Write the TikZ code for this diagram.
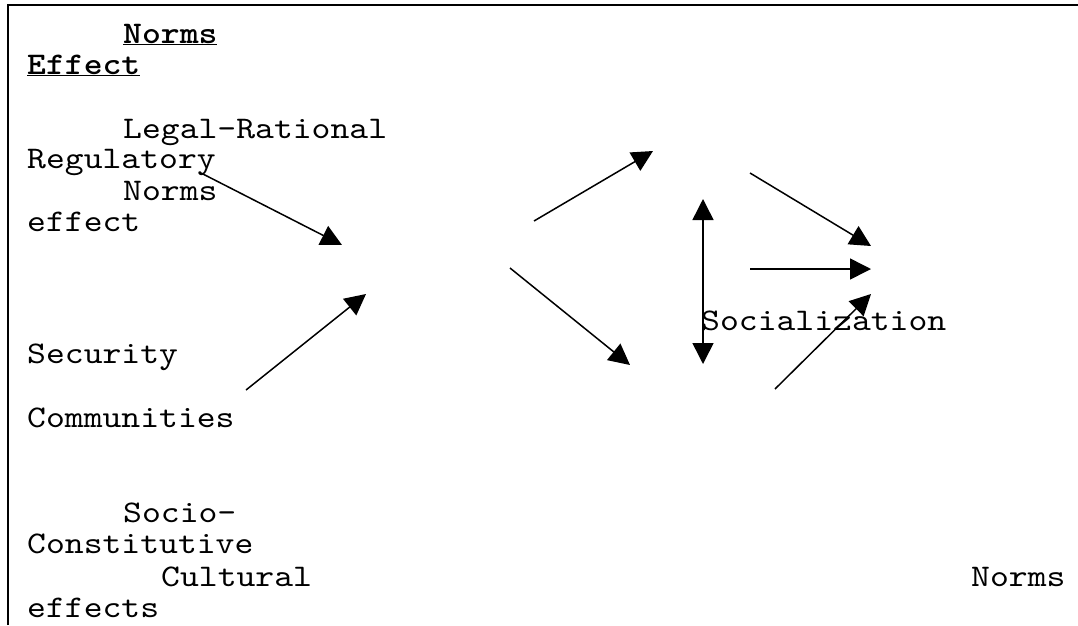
\documentclass[tikz,border=0pt]{standalone}
\usepackage{fontspec}
\newfontfamily\courierfont{lmmono10-regular.otf}[FakeStretch=1.14, BoldFont=lmmonolt10-bold.otf]
\usetikzlibrary{arrows.meta,positioning}

\begin{document}
\begin{tikzpicture}[
    x=1pt, y=-1pt,
    lbl/.style={font=\courierfont\fontsize{31.5}{32}\selectfont, anchor=base west, inner sep=0pt},
    arrow/.style={-{Triangle[length=21pt,width=21pt]}, line width=1.5pt},
    darrow/.style={{Triangle[length=21pt,width=21pt]}-{Triangle[length=21pt,width=21pt]}, line width=1.5pt}
]
\useasboundingbox (0,0) rectangle (1078,625);

%% ── Frame (top and left edges only) ──────────────────────────────
\draw[line width=2pt] (8,625) -- (8,5) -- (1078,5);

%% ── Text lines ───────────────────────────────────────────────────
\node[lbl] (title1) at (123,43)  {\underline{\textbf{Norms}}};
\node[lbl] (title2) at (27,74)   {\underline{\textbf{Effect}}};

\node[lbl] (legal)  at (123,138) {Legal-Rational};
\node[lbl] (regul)  at (27,168)  {Regulatory};
\node[lbl] (norms1) at (123,200) {Norms};
\node[lbl] (effect) at (27,231)  {effect};

\node[lbl] (secur)  at (27,363)  {Security};
\node[lbl] (commun) at (27,427)  {Communities};

\node[lbl] (social) at (701,330) {Socialization};

\node[lbl] (socio)  at (123,522) {Socio-};
\node[lbl] (constit) at (27,553) {Constitutive};
\node[lbl] (cultur) at (161,586) {Cultural};
\node[lbl] (norms2) at (971,586) {Norms};
\node[lbl] (effects) at (27,617) {effects};

%% ── Arrow end points ─────────────────────────────────────────────
\coordinate (regS) at (201,173);  \coordinate (regE) at (342,245);
\coordinate (secS) at (246,390);  \coordinate (secE) at (366,294);
\coordinate (upS)  at (534,221);  \coordinate (upE)  at (653,151);
\coordinate (dnS)  at (510,268);  \coordinate (dnE)  at (630,365);
\coordinate (vT)   at (703,199);  \coordinate (vB)   at (703,364);
\coordinate (r1S)  at (750,173);  \coordinate (r1E)  at (871,246);
\coordinate (r2S)  at (750,269);  \coordinate (r2E)  at (871,269);
\coordinate (r3S)  at (775,389);  \coordinate (r3E)  at (871,294);

%% ── Arrows ───────────────────────────────────────────────────────
\draw[arrow]  (regS) -- (regE);
\draw[arrow]  (secS) -- (secE);
\draw[arrow]  (upS)  -- (upE);
\draw[arrow]  (dnS)  -- (dnE);
\draw[darrow] (vT)   -- (vB);
\draw[arrow]  (r1S)  -- (r1E);
\draw[arrow]  (r2S)  -- (r2E);
\draw[arrow]  (r3S)  -- (r3E);
\end{tikzpicture}
\end{document}
